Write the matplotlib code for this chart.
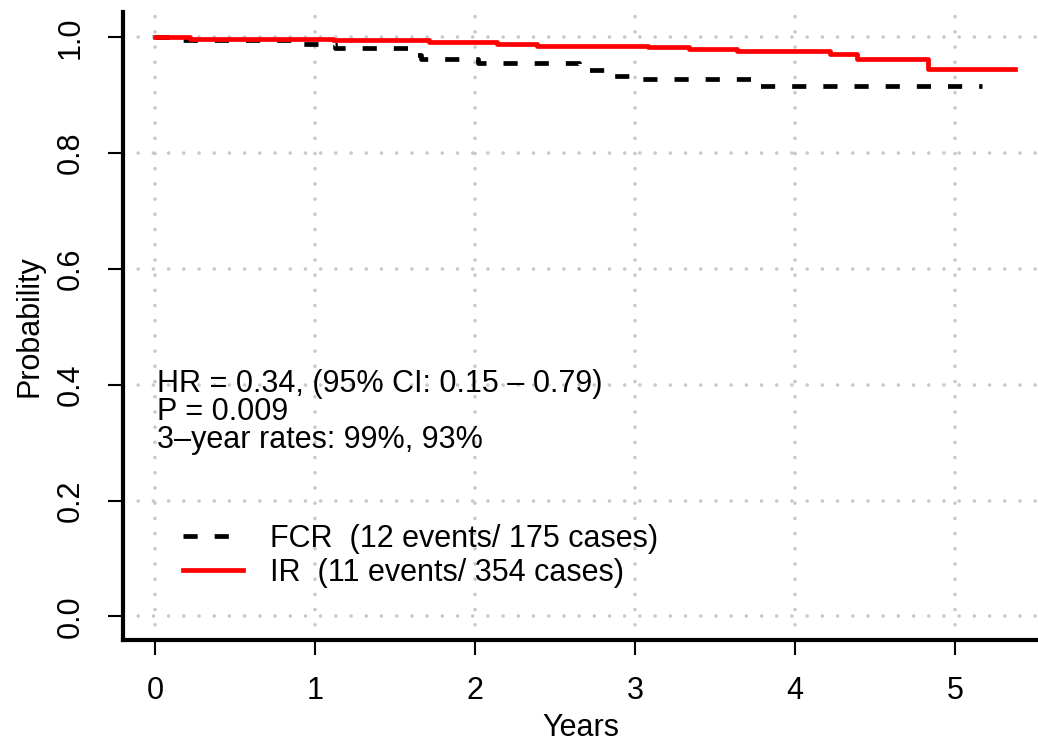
import numpy as np
import matplotlib
matplotlib.use("Agg")
import matplotlib.pyplot as plt

# -------------------------------
# data
# -------------------------------
fcr_time = [0, 0.175, 0.90, 1.125, 1.62, 1.66, 2.02, 2.65, 2.84, 2.99, 3.73, 5.17]
fcr_surv = [1.0, 0.995, 0.989, 0.981, 0.970, 0.963, 0.956, 0.943, 0.934, 0.928, 0.917, 0.917]

ir_time = [0, 0.22, 1.11, 1.71, 2.14, 2.39, 3.08, 3.34, 3.64, 4.22, 4.39, 4.83, 5.375]
ir_surv = [1.0, 0.997, 0.995, 0.992, 0.989, 0.986, 0.983, 0.980, 0.977, 0.971, 0.963, 0.946, 0.946]

x_ticks = [0, 1, 2, 3, 4, 5]
y_ticks = [0.0, 0.2, 0.4, 0.6, 0.8, 1.0]
y_tick_labels = ["0.0", "0.2", "0.4", "0.6", "0.8", "1.0"]

legend_labels = ["FCR  (12 events/ 175 cases)", "IR  (11 events/ 354 cases)"]
stats_lines = ["HR = 0.34, (95% CI: 0.15 \u2013 0.79)",
               "P = 0.009",
               "3\u2013year rates: 99%, 93%"]
stats_y = [0.387, 0.339, 0.290]

plt.rcParams["font.family"] = ["Liberation Sans", "DejaVu Sans"]
FS = 22

fig = plt.figure(figsize=(10.38, 7.46), dpi=100)
ax = fig.add_axes([123 / 1038, 106 / 746, (1038 - 123) / 1038, (640 - 12) / 746])

# -------------------------------
# grid
# -------------------------------
grid_kw = dict(color="#c8c8c8", lw=2.6, linestyle=(0, (0.01, 4.2)),
               dash_capstyle="round", zorder=0)
for xv in x_ticks:
    ax.axvline(xv, **grid_kw)
for yv in y_ticks:
    ax.axhline(yv, **grid_kw)

# -------------------------------
# curves
# -------------------------------
ax.step(fcr_time, fcr_surv, where="post", color="black", lw=3.4,
        dashes=(3.0, 3.6), label=legend_labels[0])
ax.step(ir_time, ir_surv, where="post", color="#ff0000", lw=3.4,
        label=legend_labels[1])

# -------------------------------
# axes styling
# -------------------------------
ax.set_xlim(-0.2, 5.52)
ax.set_ylim(-0.041, 1.044)
for s in ["top", "right"]:
    ax.spines[s].set_visible(False)
for s in ["left", "bottom"]:
    ax.spines[s].set_linewidth(3)

ax.set_xticks(x_ticks)
ax.set_yticks(y_ticks)
ax.set_yticklabels(y_tick_labels, rotation=90, va="center")
ax.tick_params(axis="both", length=11, width=1.5, labelsize=FS)
ax.tick_params(axis="x", pad=15)
ax.tick_params(axis="y", pad=16)

ax.set_xlabel("Years", fontsize=FS, labelpad=5)
ax.set_ylabel("Probability", fontsize=FS, labelpad=8)

for txt, yy in zip(stats_lines, stats_y):
    ax.text(0.015, yy, txt, fontsize=FS, va="baseline", ha="left")

ax.legend(loc="center left", bbox_to_anchor=(0.0656, 0.134), frameon=False,
          fontsize=FS, handlelength=1.96, handletextpad=0.88, labelspacing=0.15,
          borderpad=0, borderaxespad=0)

fig.savefig("out.png", dpi=100)
